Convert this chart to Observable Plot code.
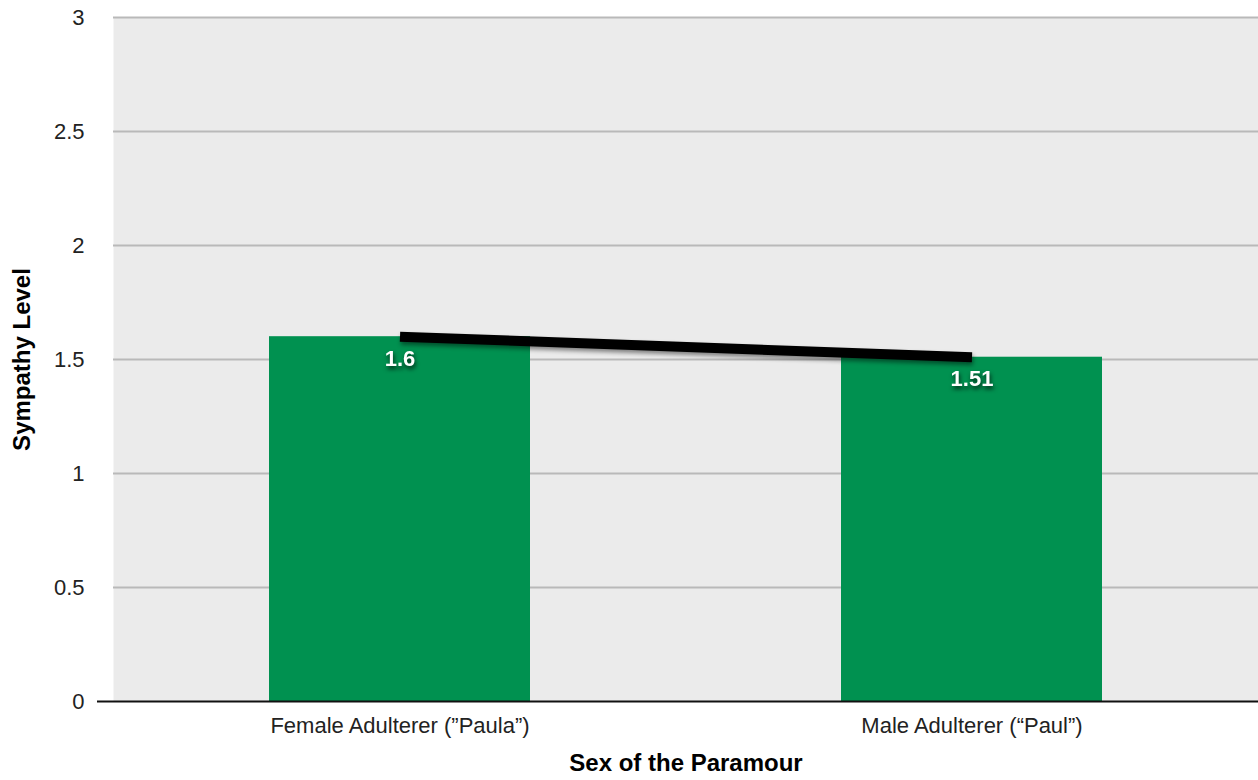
<!DOCTYPE html>
<html>
<head>
<meta charset="utf-8">
<script src="https://cdn.jsdelivr.net/npm/d3@7"></script>
<script src="https://cdn.jsdelivr.net/npm/@observablehq/plot@0.6"></script>
<style>
  html, body { margin: 0; padding: 0; background: #fff; }
  .shadow-line { filter: drop-shadow(1px 3px 2px rgba(0,0,0,0.45)); }
  .shadow-text { filter: drop-shadow(1px 3px 2px rgba(0,0,0,0.7)); }
</style>
</head>
<body>
<div id="chart"></div>
<script>
const categories = ["Female Adulterer (\u201dPaula\u201d)", "Male Adulterer (\u201cPaul\u201d)"];
const values = [1.6, 1.51];
const labels = ["1.6", "1.51"];
const yTicks = [0, 0.5, 1, 1.5, 2, 2.5, 3];
const xTitle = "Sex of the Paramour";
const yTitle = "Sympathy Level";

const data = categories.map((c, i) => ({category: c, value: values[i], label: labels[i]}));

const chart = Plot.plot({
  width: 1258,
  height: 780,
  marginLeft: 113,
  marginRight: 0,
  marginTop: 17,
  marginBottom: 79,
  style: {fontFamily: "'Liberation Sans', Helvetica, Arial, sans-serif", fontSize: "22px", color: "#222", background: "#fff"},
  x: {domain: categories, paddingInner: 0.544, paddingOuter: 0.272, label: null},
  y: {domain: [0, 3], ticks: yTicks, label: null},
  marks: [
    Plot.frame({fill: "#ebebeb", stroke: null}),
    Plot.ruleY(yTicks.filter(d => d > 0), {stroke: "#b9b9b9", strokeWidth: 2}),
    Plot.barY(data, {x: "category", y: "value", fill: "#009150"}),
    Plot.ruleY([0], {stroke: "#111", strokeWidth: 2, insetLeft: -16}),
    Plot.axisY({ticks: yTicks, tickSize: 0, tickPadding: 29, fontSize: 22, fill: "#222", tickFormat: d => String(d)}),
    Plot.axisX({tickSize: 0, tickPadding: 16, fontSize: 22, fill: "#222"}),
    Plot.line(data, {x: "category", y: "value", stroke: "#000", strokeWidth: 10, strokeLinecap: "butt", className: "shadow-line"}),
    Plot.text(data, {x: "category", y: "value", text: "label", dy: 22, fill: "#fff", fontWeight: "bold", fontSize: 22, className: "shadow-text"}),
    Plot.text([xTitle], {frameAnchor: "bottom", dy: 69, fontWeight: "bold", fontSize: 24, fill: "#000"}),
    Plot.text([yTitle], {frameAnchor: "left", textAnchor: "middle", dx: -91, rotate: -90, fontWeight: "bold", fontSize: 24, fill: "#000"})
  ]
});
document.getElementById("chart").appendChild(chart);
</script>
</body>
</html>
